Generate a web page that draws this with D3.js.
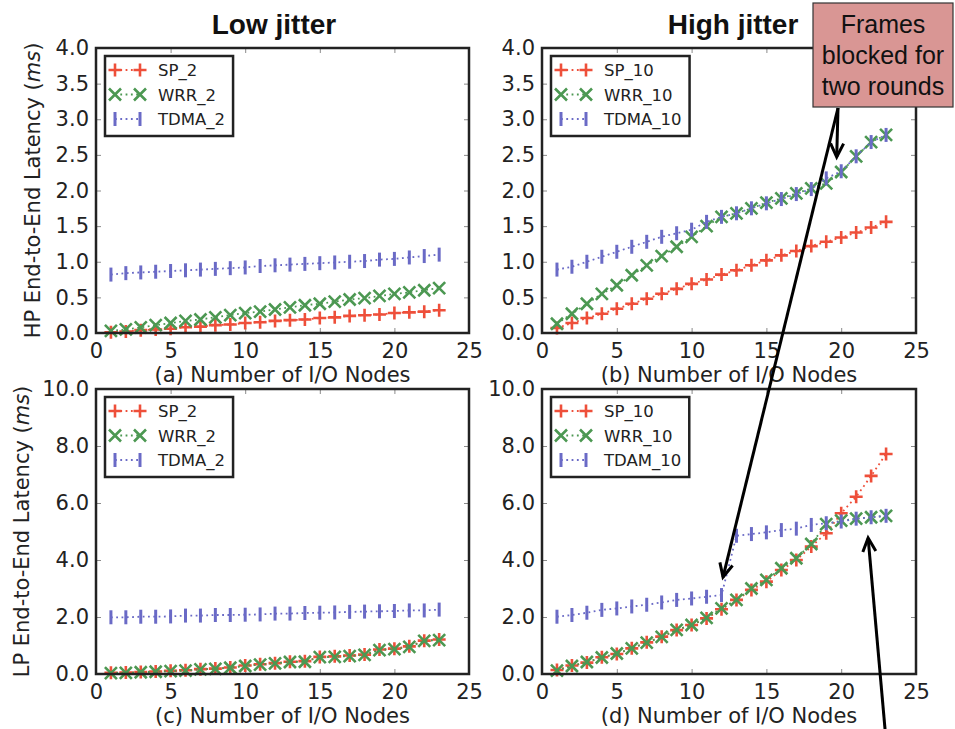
<!DOCTYPE html>
<html>
<head>
<meta charset="utf-8">
<script src="https://cdn.jsdelivr.net/npm/d3@7/dist/d3.min.js"></script>
<style>
  body { margin: 0; background: #fff; }
  svg { display: block; font-family: "DejaVu Sans", sans-serif; }
</style>
</head>
<body>
<svg id="chart" width="955" height="729"></svg>
<script>
// Data
const nodes = [1,2,3,4,5,6,7,8,9,10,11,12,13,14,15,16,17,18,19,20,21,22,23];

// (a) HP latency, low jitter
const hpLowSP   = [0.01,0.02,0.04,0.05,0.06,0.08,0.09,0.11,0.12,0.14,0.15,0.17,0.18,0.19,0.21,0.22,0.24,0.25,0.26,0.28,0.29,0.30,0.32];
const hpLowWRR  = [0.03,0.05,0.08,0.11,0.14,0.17,0.19,0.22,0.25,0.28,0.30,0.33,0.36,0.39,0.41,0.44,0.47,0.49,0.52,0.55,0.57,0.60,0.63];
const hpLowTDMA = [0.82,0.84,0.85,0.86,0.87,0.88,0.89,0.90,0.91,0.92,0.94,0.95,0.96,0.97,0.98,0.99,1.00,1.01,1.03,1.04,1.06,1.08,1.10];

// (b) HP latency, high jitter
const hpHighSP   = [0.07,0.14,0.21,0.27,0.34,0.41,0.48,0.55,0.62,0.69,0.75,0.82,0.88,0.95,1.02,1.09,1.15,1.22,1.28,1.34,1.41,1.48,1.56];
const hpHighWRR  = [0.13,0.27,0.41,0.55,0.67,0.81,0.95,1.08,1.21,1.35,1.50,1.63,1.68,1.75,1.83,1.89,1.96,2.03,2.10,2.26,2.48,2.68,2.78];
const hpHighTDMA = [0.89,0.93,1.00,1.07,1.14,1.21,1.28,1.35,1.40,1.45,1.56,1.63,1.68,1.75,1.82,1.88,1.95,2.02,2.17,2.27,2.48,2.68,2.78];

// (c) LP latency, low jitter
const lpLowSP   = [0.04,0.05,0.07,0.09,0.11,0.13,0.17,0.19,0.23,0.30,0.34,0.38,0.43,0.45,0.60,0.62,0.65,0.68,0.86,0.89,0.97,1.17,1.21];
const lpLowWRR  = [0.03,0.04,0.06,0.08,0.10,0.12,0.16,0.18,0.22,0.28,0.33,0.37,0.42,0.43,0.59,0.60,0.63,0.67,0.84,0.87,0.95,1.16,1.19];
const lpLowTDMA = [1.99,1.99,2.01,2.01,2.02,2.05,2.05,2.07,2.07,2.08,2.09,2.12,2.12,2.14,2.15,2.16,2.18,2.19,2.20,2.21,2.23,2.23,2.26];

// (d) LP latency, high jitter
const lpHighSP   = [0.14,0.30,0.40,0.59,0.70,0.90,1.11,1.31,1.54,1.72,1.95,2.27,2.60,2.95,3.24,3.65,4.00,4.47,4.94,5.64,6.22,6.95,7.72];
const lpHighWRR  = [0.12,0.28,0.42,0.58,0.72,0.90,1.10,1.30,1.55,1.72,1.97,2.30,2.60,3.00,3.30,3.71,4.06,4.56,5.26,5.38,5.45,5.50,5.55];
const lpHighTDMA = [2.01,2.07,2.15,2.25,2.30,2.37,2.43,2.51,2.60,2.65,2.71,2.77,4.85,4.91,4.97,5.05,5.10,5.23,5.29,5.35,5.45,5.50,5.55];

const xTicks = [0,5,10,15,20,25];
const hpTicks = [0,0.5,1,1.5,2,2.5,3,3.5,4];
const lpTicks = [0,2,4,6,8,10];

const colors = { plus: '#ee4f3a', cross: '#4c9852', bar: '#6a6ac6' };

const panels = [
  { left: 96,  top: 48,  width: 373, yMax: 4,  yTicks: hpTicks, xLabel: '(a) Number of I/O Nodes', yLabel: 'HP', title: 'Low jitter',
    series: [{ name: 'SP_2', values: hpLowSP, kind: 'plus' }, { name: 'WRR_2', values: hpLowWRR, kind: 'cross' }, { name: 'TDMA_2', values: hpLowTDMA, kind: 'bar' }] },
  { left: 542, top: 48,  width: 374, yMax: 4,  yTicks: hpTicks, xLabel: '(b) Number of I/O Nodes', title: 'High jitter',
    series: [{ name: 'SP_10', values: hpHighSP, kind: 'plus' }, { name: 'WRR_10', values: hpHighWRR, kind: 'cross' }, { name: 'TDMA_10', values: hpHighTDMA, kind: 'bar' }] },
  { left: 96,  top: 389, width: 373, yMax: 10, yTicks: lpTicks, xLabel: '(c) Number of I/O Nodes', yLabel: 'LP',
    series: [{ name: 'SP_2', values: lpLowSP, kind: 'plus' }, { name: 'WRR_2', values: lpLowWRR, kind: 'cross' }, { name: 'TDMA_2', values: lpLowTDMA, kind: 'bar' }] },
  { left: 542, top: 389, width: 374, yMax: 10, yTicks: lpTicks, xLabel: '(d) Number of I/O Nodes',
    series: [{ name: 'SP_10', values: lpHighSP, kind: 'plus' }, { name: 'WRR_10', values: lpHighWRR, kind: 'cross' }, { name: 'TDAM_10', values: lpHighTDMA, kind: 'bar' }] }
];

const plotHeight = 285;
const svg = d3.select('#chart');

function markerPath(kind) {
  if (kind === 'plus') return 'M-6.5,0H6.5M0,-6.5V6.5';
  if (kind === 'cross') return 'M-6,-6L6,6M-6,6L6,-6';
  return 'M0,-7V7';
}

function drawMarker(g, kind, x, y) {
  g.append('path')
    .attr('transform', `translate(${x},${y})`)
    .attr('d', markerPath(kind))
    .attr('fill', 'none')
    .attr('stroke', colors[kind])
    .attr('stroke-width', kind === 'bar' ? 3 : 2.6);
}

const scales = [];

panels.forEach(function(p) {
  const x = d3.scaleLinear().domain([0, 25]).range([0, p.width]);
  const y = d3.scaleLinear().domain([0, p.yMax]).range([plotHeight, 0]);
  scales.push({ x: x, y: y, p: p });

  const g = svg.append('g').attr('transform', `translate(${p.left},${p.top})`);

  // ticks inside on all four sides
  const tickColor = '#8a8a8a';
  g.append('g').attr('transform', `translate(0,${plotHeight})`)
    .call(d3.axisBottom(x).tickValues(xTicks).tickSize(-5).tickFormat(''))
    .call(a => a.select('.domain').remove())
    .selectAll('line').attr('stroke', tickColor);
  g.append('g')
    .call(d3.axisTop(x).tickValues(xTicks).tickSize(-5).tickFormat(''))
    .call(a => a.select('.domain').remove())
    .selectAll('line').attr('stroke', tickColor);
  g.append('g')
    .call(d3.axisLeft(y).tickValues(p.yTicks).tickSize(-5).tickFormat(''))
    .call(a => a.select('.domain').remove())
    .selectAll('line').attr('stroke', tickColor);
  g.append('g').attr('transform', `translate(${p.width},0)`)
    .call(d3.axisRight(y).tickValues(p.yTicks).tickSize(-5).tickFormat(''))
    .call(a => a.select('.domain').remove())
    .selectAll('line').attr('stroke', tickColor);

  // tick labels
  g.append('g').attr('transform', `translate(0,${plotHeight})`)
    .call(d3.axisBottom(x).tickValues(xTicks).tickSize(0).tickPadding(10).tickFormat(d3.format('d')))
    .call(a => a.select('.domain').remove())
    .selectAll('text')
      .attr('font-family', '"DejaVu Sans", sans-serif')
      .attr('font-size', 21).attr('fill', '#222');
  g.append('g')
    .call(d3.axisLeft(y).tickValues(p.yTicks).tickSize(0).tickPadding(7).tickFormat(d3.format('.1f')))
    .call(a => a.select('.domain').remove())
    .selectAll('text')
      .attr('font-family', '"DejaVu Sans", sans-serif')
      .attr('font-size', 21).attr('fill', '#222');

  // series: dotted line + markers
  p.series.forEach(function(s) {
    const pts = nodes.map((n, i) => [x(n), y(s.values[i])]);
    g.append('path')
      .attr('d', d3.line()(pts))
      .attr('fill', 'none')
      .attr('stroke', colors[s.kind])
      .attr('stroke-width', 1.8)
      .attr('stroke-dasharray', '1.8,3.5');
    const mg = g.append('g');
    pts.forEach(pt => drawMarker(mg, s.kind, pt[0], pt[1]));
  });

  // frame
  g.append('rect')
    .attr('width', p.width).attr('height', plotHeight)
    .attr('fill', 'none').attr('stroke', '#222').attr('stroke-width', 2.5);

  // legend
  const lg = g.append('g').attr('transform', 'translate(9,8)');
  const box = lg.append('rect').attr('height', 80)
    .attr('fill', '#fff').attr('stroke', '#222').attr('stroke-width', 2.5);
  let maxLen = 0;
  p.series.forEach(function(s, i) {
    const cy = 14 + i * 24.5;
    lg.append('line')
      .attr('x1', 10).attr('x2', 35).attr('y1', cy).attr('y2', cy)
      .attr('stroke', colors[s.kind]).attr('stroke-width', 1.8)
      .attr('stroke-dasharray', '1.8,3.5');
    drawMarker(lg, s.kind, 10, cy);
    drawMarker(lg, s.kind, 35, cy);
    const t = lg.append('text')
      .attr('x', 53).attr('y', cy + 6)
      .attr('font-size', 16.5).attr('fill', '#222')
      .text(s.name);
    maxLen = Math.max(maxLen, t.node().getComputedTextLength());
  });
  box.attr('width', 53 + maxLen + 8);

  // x label
  svg.append('text')
    .attr('x', p.left + p.width / 2)
    .attr('y', p.top + plotHeight + 49)
    .attr('text-anchor', 'middle')
    .attr('font-size', 21).attr('fill', '#222')
    .text(p.xLabel);

  // y label
  if (p.yLabel) {
    const lx = p.yMax === 4 ? 40 : 29;
    const ly = p.top + plotHeight / 2;
    const t = svg.append('text')
      .attr('transform', `translate(${lx},${ly}) rotate(-90)`)
      .attr('text-anchor', 'middle')
      .attr('font-size', 21).attr('fill', '#222');
    t.append('tspan').text(p.yLabel + ' End-to-End Latency (');
    t.append('tspan').attr('font-style', 'italic').text('ms');
    t.append('tspan').text(')');
  }

  // column title
  if (p.title) {
    svg.append('text')
      .attr('x', p.title === 'Low jitter' ? 274 : 733)
      .attr('y', 34)
      .attr('text-anchor', 'middle')
      .attr('font-family', '"Liberation Sans", Arial, sans-serif')
      .attr('font-weight', 'bold')
      .attr('font-size', 28).attr('fill', '#111')
      .text(p.title);
  }
});

// Annotations
const annot = svg.append('g');
annot.append('rect')
  .attr('x', 813).attr('y', 3).attr('width', 140).attr('height', 104)
  .attr('fill', '#d99694').attr('stroke', '#333').attr('stroke-width', 1.2);
['Frames', 'blocked for', 'two rounds'].forEach(function(line, i) {
  annot.append('text')
    .attr('x', 883).attr('y', 33 + i * 31)
    .attr('text-anchor', 'middle')
    .attr('font-family', '"Liberation Sans", Arial, sans-serif')
    .attr('font-size', 25).attr('fill', '#111')
    .text(line);
});

function arrow(x1, y1, x2, y2) {
  const ang = Math.atan2(y2 - y1, x2 - x1);
  const len = 15, spread = 0.45;
  annot.append('line')
    .attr('x1', x1).attr('y1', y1).attr('x2', x2).attr('y2', y2)
    .attr('stroke', '#000').attr('stroke-width', 3);
  const w1 = [x2 - len * Math.cos(ang - spread), y2 - len * Math.sin(ang - spread)];
  const w2 = [x2 - len * Math.cos(ang + spread), y2 - len * Math.sin(ang + spread)];
  annot.append('path')
    .attr('d', `M${w1[0]},${w1[1]}L${x2},${y2}L${w2[0]},${w2[1]}`)
    .attr('fill', 'none').attr('stroke', '#000').attr('stroke-width', 3)
    .attr('stroke-linejoin', 'miter');
}

const sb = scales[1], sd = scales[3];
arrow(838, 108, sb.p.left + sb.x(19.7), sb.p.top + sb.y(2.47));
arrow(838, 108, sd.p.left + sd.x(12.1), sd.p.top + sd.y(3.4));
arrow(886, 740, sd.p.left + sd.x(21.8), sd.p.top + sd.y(4.77));
</script>
</body>
</html>
